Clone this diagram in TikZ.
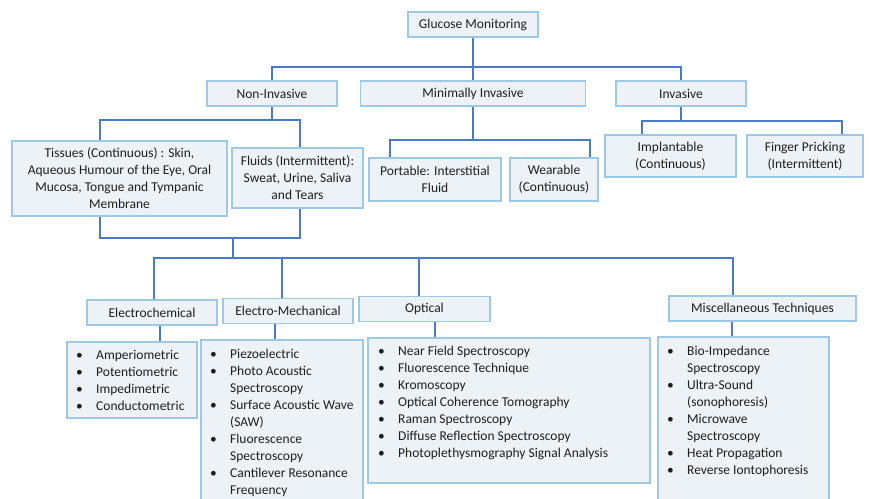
\documentclass[tikz,border=0pt]{standalone}
\usepackage{fontspec}
\setmainfont{Carlito}
\definecolor{boxfill}{HTML}{EDF2F7}
\definecolor{boxline}{HTML}{9DC8E6}
\definecolor{conncol}{HTML}{4A7BC8}
\definecolor{txt}{HTML}{1E1E1E}
\newcommand\fsz{\fontsize{13.5}{17}\selectfont}
\tikzset{
  bx/.style={draw=boxline, fill=boxfill, line width=1.1pt, inner sep=0pt, align=center, text=txt, font=\fsz},
  cn/.style={draw=conncol, line width=1.4pt},
  lst/.style={inner sep=0pt, anchor=base west, text=txt, font=\fsz}
}
\begin{document}
\begin{tikzpicture}[x=1pt,y=-1pt]
\clip (0,0) rectangle (869,498);
\fill[white] (0,0) rectangle (869,498);
% level 0/1
\node[bx, minimum width=130, minimum height=25] (gm) at (473,24.5) {Glucose Monitoring};
\node[bx, minimum width=130, minimum height=25] (ni) at (272,93.5) {Non-Invasive};
\node[bx, minimum width=225, minimum height=25] (mi) at (473,93.5) {Minimally Invasive};
\node[bx, minimum width=130, minimum height=25] (inv) at (681,93.5) {Invasive};
% level 2
\node[bx, minimum width=215, minimum height=75] (tis) at (119.5,178.5) {Tissues (Continuous) : Skin,\\Aqueous Humour of the Eye, Oral\\Mucosa, Tongue and Tympanic\\Membrane};
\node[bx, minimum width=131, minimum height=60] (flu) at (297.5,178) {Fluids (Intermittent):\\Sweat, Urine, Saliva\\and Tears};
\node[bx, minimum width=132, minimum height=43] (por) at (435,179.5) {Portable: Interstitial\\Fluid};
\node[bx, minimum width=88, minimum height=43] (wea) at (554,179.5) {Wearable\\(Continuous)};
\node[bx, minimum width=131, minimum height=42] (imp) at (670.5,156) {Implantable\\(Continuous)};
\node[bx, minimum width=116, minimum height=42] (fin) at (805,156) {Finger Pricking\\(Intermittent)};
% level 3
\node[bx, minimum width=130, minimum height=25] (ec) at (152,312.5) {Electrochemical};
\node[bx, minimum width=130, minimum height=25] (em) at (288,311) {Electro-Mechanical};
\node[bx, minimum width=131, minimum height=25] (op) at (424.5,309) {Optical};
\node[bx, minimum width=187, minimum height=25] (mt) at (762.5,308.5) {Miscellaneous Techniques};
% list boxes
\node[bx, minimum width=130, minimum height=76] (ecl) at (132,380) {};
\node[bx, minimum width=162, minimum height=170] (eml) at (282,425) {};
\node[bx, minimum width=282, minimum height=145] (opl) at (509,410.5) {};
\node[bx, minimum width=171, minimum height=173] (mtl) at (743.5,423.5) {};
% list texts
\node[lst] (ect) at (76,359) {\begin{tabular}[t]{@{}p{20pt}@{}l@{}}
•&Amperiometric\\ •&Potentiometric\\ •&Impedimetric\\ •&Conductometric\end{tabular}};
\node[lst] (emt) at (210,358) {\begin{tabular}[t]{@{}p{20pt}@{}l@{}}
•&Piezoelectric\\ •&Photo Acoustic\\ &Spectroscopy\\ •&Surface Acoustic Wave\\ &(SAW)\\ •&Fluorescence\\ &Spectroscopy\\ •&Cantilever Resonance\\ &Frequency\end{tabular}};
\node[lst] (opt) at (378,355) {\begin{tabular}[t]{@{}p{20pt}@{}l@{}}
•&Near Field Spectroscopy\\ •&Fluorescence Technique\\ •&Kromoscopy\\ •&Optical Coherence Tomography\\ •&Raman Spectroscopy\\ •&Diffuse Reflection Spectroscopy\\ •&Photoplethysmography Signal Analysis\end{tabular}};
\node[lst] (mtt) at (667,355) {\begin{tabular}[t]{@{}p{20pt}@{}l@{}}
•&Bio-Impedance\\ &Spectroscopy\\ •&Ultra-Sound\\ &(sonophoresis)\\ •&Microwave\\ &Spectroscopy\\ •&Heat Propagation\\ •&Reverse Iontophoresis\end{tabular}};
% connectors top
\coordinate (t1) at (473,67);
\draw[cn] (gm.south) -- (mi.north);
\draw[cn] (ni.north) |- (t1) -| (inv.north);
% non-invasive
\coordinate (a100) at (100,120);
\coordinate (a300) at (300,120);
\draw[cn] (ni.south) -- (ni.south |- a100);
\draw[cn] (tis.north -| a100) -- (a100) -- (a300) -- (flu.north -| a300);
% minimally invasive
\coordinate (b390) at (390,140);
\coordinate (b590) at (590,140);
\draw[cn] (mi.south) -- (mi.south |- b390);
\draw[cn] (por.north -| b390) -- (b390) -- (b590) -- (wea.north -| b590);
% invasive
\coordinate (i642) at (642,121);
\coordinate (i842) at (842,121);
\draw[cn] (inv.south) -- (inv.south |- i642);
\draw[cn] (imp.north -| i642) -- (i642) -- (i842) -- (fin.north -| i842);
% merge tissues & fluids
\coordinate (c100) at (100,238);
\coordinate (c300) at (300,238);
\coordinate (c233) at (233,238);
\coordinate (d233) at (233,258);
\draw[cn] (tis.south -| c100) -- (c100) -- (c300) -- (flu.south -| c300);
\draw[cn] (c233) -- (d233);
% technique bar
\coordinate (d154) at (154,258);
\coordinate (d282) at (282,258);
\coordinate (d419) at (419,258);
\coordinate (d733) at (733,258);
\draw[cn] (ec.north -| d154) -- (d154) -- (d733) -- (mt.north -| d733);
\draw[cn] (d282) -- (em.north -| d282);
\draw[cn] (d419) -- (op.north -| d419);
% header to lists
\coordinate (e160) at (160,330);
\coordinate (e275) at (275,330);
\coordinate (e435) at (435,330);
\coordinate (e732) at (732,330);
\draw[cn] (ec.south -| e160) -- (ecl.north -| e160);
\draw[cn] (em.south -| e275) -- (eml.north -| e275);
\draw[cn] (op.south -| e435) -- (opl.north -| e435);
\draw[cn] (mt.south -| e732) -- (mtl.north -| e732);
\end{tikzpicture}
\end{document}
